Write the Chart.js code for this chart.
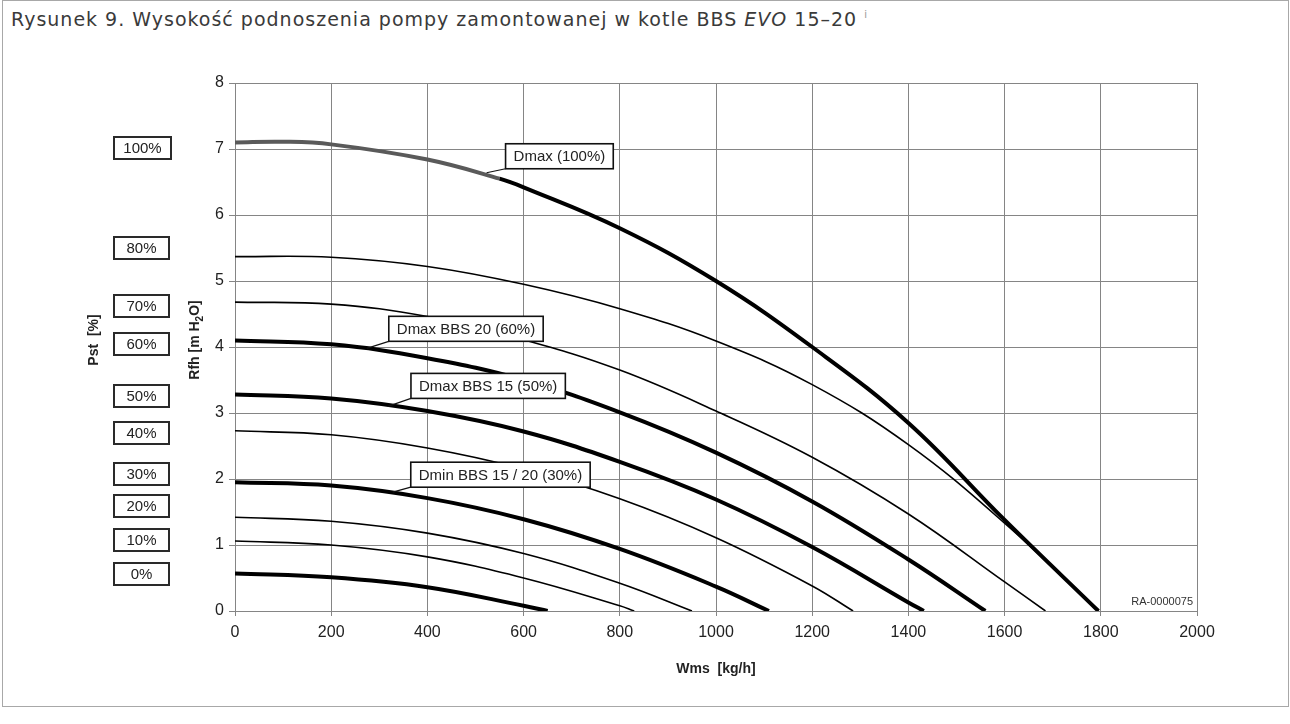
<!DOCTYPE html>
<html lang="pl">
<head>
<meta charset="utf-8">
<script src="https://cdn.jsdelivr.net/npm/chart.js@4.4.1/dist/chart.umd.min.js"></script>
<style>
html, body { margin: 0; padding: 0; background: #fff; }
#frame { position: absolute; left: 2px; top: 0; width: 1285px; height: 705px; border: 1px solid #a8a8a8; }
#title { position: absolute; left: 11px; top: 8px; font: 19px "DejaVu Sans", sans-serif; letter-spacing: 1px; color: #3a3a3a; white-space: nowrap; }
#title sup { font-size: 10px; color: #999; vertical-align: 8px; }
canvas { position: absolute; left: 0; top: 0; }
</style>
</head>
<body>
<div id="frame"></div>
<div id="title">Rysunek 9. Wysokość podnoszenia pompy zamontowanej w kotle BBS <i>EVO</i> 15–20 <sup>i</sup></div>
<canvas id="pumpChart" width="1290" height="724"></canvas>
<script>
// przepływ [kg/h] i wysokość podnoszenia [m H2O]
const flow100 = [0, 100, 200, 400, 550, 600, 800, 1000, 1200, 1400, 1600, 1795];
const head100 = [7.10, 7.11, 7.07, 6.84, 6.55, 6.42, 5.80, 5.00, 4.00, 2.85, 1.38, 0];
const flow80 = [0, 200, 400, 600, 800, 1000, 1200, 1400, 1600, 1795];
const head80 = [5.37, 5.36, 5.22, 4.95, 4.58, 4.09, 3.43, 2.52, 1.33, 0];
const flow70 = [0, 200, 400, 600, 800, 1000, 1200, 1400, 1600, 1685];
const head70 = [4.68, 4.65, 4.46, 4.11, 3.65, 3.03, 2.33, 1.47, 0.44, 0];
const flow60 = [0, 200, 400, 600, 800, 1000, 1200, 1400, 1560];
const head60 = [4.10, 4.04, 3.83, 3.50, 3.01, 2.40, 1.66, 0.78, 0];
const flow50 = [0, 200, 400, 600, 800, 1000, 1200, 1400, 1432];
const head50 = [3.28, 3.22, 3.03, 2.72, 2.26, 1.69, 0.97, 0.13, 0];
const flow40 = [0, 200, 400, 600, 800, 1000, 1200, 1285];
const head40 = [2.73, 2.67, 2.47, 2.15, 1.70, 1.11, 0.38, 0];
const flow30 = [0, 200, 400, 600, 800, 1000, 1110];
const head30 = [1.95, 1.90, 1.71, 1.39, 0.94, 0.37, 0];
const flow20 = [0, 200, 400, 600, 800, 950];
const head20 = [1.42, 1.36, 1.18, 0.87, 0.42, 0];
const flow10 = [0, 200, 400, 600, 800, 830];
const head10 = [1.06, 1.00, 0.82, 0.50, 0.08, 0];
const flow0 = [0, 200, 400, 600, 650];
const head0 = [0.57, 0.51, 0.36, 0.08, 0];

const pctLabels = ["100%", "80%", "70%", "60%", "50%", "40%", "30%", "20%", "10%", "0%"];
const xTickValues = [0, 200, 400, 600, 800, 1000, 1200, 1400, 1600, 1800, 2000];
const yTickValues = [0, 1, 2, 3, 4, 5, 6, 7, 8];

const curves = [
    { label: "100%", q: flow100, h: head100, thick: true },
    { label: "80%", q: flow80, h: head80, thick: false },
    { label: "70%", q: flow70, h: head70, thick: false },
    { label: "60%", q: flow60, h: head60, thick: true },
    { label: "50%", q: flow50, h: head50, thick: true },
    { label: "40%", q: flow40, h: head40, thick: false },
    { label: "30%", q: flow30, h: head30, thick: true },
    { label: "20%", q: flow20, h: head20, thick: false },
    { label: "10%", q: flow10, h: head10, thick: false },
    { label: "0%", q: flow0, h: head0, thick: true },
];

// pozycje ramek z procentami (px, lewa kolumna)
const pctBoxTops = [137, 237, 295, 333, 385, 422, 463, 495, 529, 563];

// opisy krzywych: punkt zaczepienia na krzywej + przesunięcie ramki
const curveNotes = [
    { text: "Dmax (100%)", x: 523, y: 6.64, dx: 19, dy: -29 },
    { text: "Dmax BBS 20 (60%)", x: 274, y: 3.98, dx: 22, dy: -32 },
    { text: "Dmax BBS 15 (50%)", x: 318, y: 3.10, dx: 23, dy: -33 },
    { text: "Dmin BBS 15 / 20 (30%)", x: 328, y: 1.80, dx: 18, dy: -30 },
];

const FONT = '"Liberation Sans", Arial, sans-serif';
const GRID = "#858585";

const overlay = {
    id: "overlay",
    afterDraw(chart) {
        const { ctx, scales } = chart;
        ctx.save();

        // ramki z procentami
        ctx.font = "15px " + FONT;
        ctx.textAlign = "center";
        ctx.textBaseline = "middle";
        pctLabels.forEach((t, i) => {
            const w = t.length > 3 ? 57 : 55;
            const top = pctBoxTops[i];
            ctx.fillStyle = "#fff";
            ctx.fillRect(114, top, w, 22);
            ctx.lineWidth = 2;
            ctx.strokeStyle = "#2a2a2a";
            ctx.strokeRect(114, top, w, 22);
            ctx.fillStyle = "#222";
            ctx.fillText(t, 114 + w / 2, top + 12);
        });

        // opisy krzywych
        curveNotes.forEach(n => {
            const ax = scales.x.getPixelForValue(n.x);
            const ay = scales.y.getPixelForValue(n.y);
            const bx = ax + n.dx, by = ay + n.dy;
            const w = ctx.measureText(n.text).width + 16, h = 25;
            ctx.lineWidth = 1.2;
            ctx.strokeStyle = "#111";
            ctx.beginPath();
            ctx.moveTo(ax, ay);
            ctx.lineTo(bx, by + h);
            ctx.stroke();
            ctx.fillStyle = "#fff";
            ctx.fillRect(bx, by, w, h);
            ctx.lineWidth = 1.6;
            ctx.strokeRect(bx, by, w, h);
            ctx.fillStyle = "#222";
            ctx.textAlign = "left";
            ctx.fillText(n.text, bx + 8, by + h / 2 + 1);
        });

        // kod rysunku
        ctx.font = "11px " + FONT;
        ctx.textAlign = "right";
        ctx.fillStyle = "#333";
        ctx.fillText("RA-0000075", scales.x.right - 4, scales.y.bottom - 9);

        // tytuły osi pionowych
        ctx.font = "bold 14px " + FONT;
        ctx.fillStyle = "#222";
        ctx.save();
        ctx.translate(94, 340);
        ctx.rotate(-Math.PI / 2);
        ctx.textAlign = "center";
        ctx.fillText("Pst  [%]", 0, 0);
        ctx.restore();

        ctx.save();
        ctx.translate(195, 340);
        ctx.rotate(-Math.PI / 2);
        ctx.textAlign = "left";
        const p1 = "Rfh [m H", p2 = "2", p3 = "O]";
        const w1 = ctx.measureText(p1).width, w3 = ctx.measureText(p3).width;
        ctx.font = "bold 10px " + FONT;
        const w2 = ctx.measureText(p2).width;
        let sx = -(w1 + w2 + w3) / 2;
        ctx.font = "bold 14px " + FONT;
        ctx.fillText(p1, sx, 0);
        ctx.font = "bold 10px " + FONT;
        ctx.fillText(p2, sx + w1, 5);
        ctx.font = "bold 14px " + FONT;
        ctx.fillText(p3, sx + w1 + w2, 0);
        ctx.restore();

        ctx.restore();
    }
};

new Chart(document.getElementById("pumpChart"), {
    type: "line",
    data: {
        datasets: curves.map(c => ({
            label: c.label,
            data: c.q.map((q, i) => ({ x: q, y: c.h[i] })),
            borderColor: "#000",
            borderWidth: c.thick ? 4 : 1.6,
            pointRadius: 0,
            fill: false,
            tension: 0.4,
            segment: c.label === "100%"
                ? { borderColor: s => (s.p1.parsed.x <= 550 ? "#5a5a5a" : "#000") }
                : undefined,
        })),
    },
    options: {
        responsive: false,
        animation: false,
        devicePixelRatio: 1,
        layout: { padding: { left: 0, top: 83, right: 93, bottom: 0 } },
        plugins: { legend: { display: false }, tooltip: { enabled: false } },
        scales: {
            x: {
                type: "linear",
                min: 0,
                max: 2000,
                afterBuildTicks: s => { s.ticks = xTickValues.map(v => ({ value: v })); },
                afterFit: s => { s.height = 113; },
                grid: { color: GRID, tickLength: 5 },
                border: { color: GRID },
                ticks: {
                    color: "#222",
                    font: { family: FONT, size: 16 },
                    padding: 7,
                    maxRotation: 0,
                    callback: v => String(v),
                },
                title: {
                    display: true,
                    text: "Wms  [kg/h]",
                    color: "#222",
                    font: { family: FONT, size: 14, weight: "bold" },
                    padding: { top: 0, bottom: 46 },
                },
            },
            y: {
                type: "linear",
                min: 0,
                max: 8,
                afterBuildTicks: s => { s.ticks = yTickValues.map(v => ({ value: v })); },
                afterFit: s => { s.width = 235; },
                grid: { color: GRID, tickLength: 6 },
                border: { color: GRID },
                ticks: { color: "#222", font: { family: FONT, size: 16 }, padding: 5, callback: v => String(v) },
            },
        },
    },
    plugins: [overlay],
});
</script>
</body>
</html>
